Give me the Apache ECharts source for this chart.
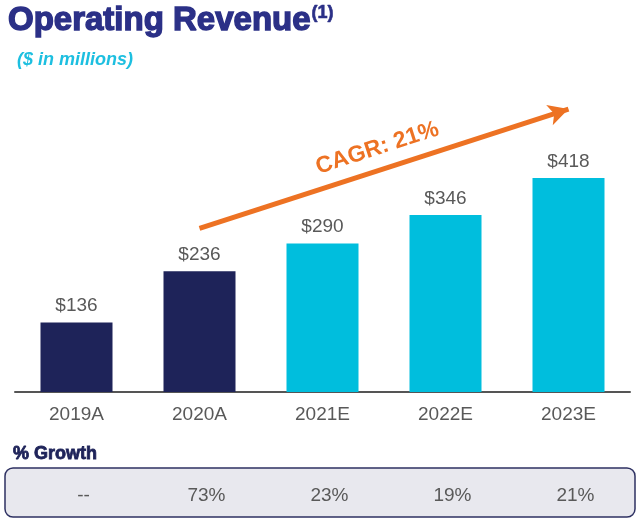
<!DOCTYPE html>
<html>
<head>
<meta charset="utf-8">
<script src="https://cdn.jsdelivr.net/npm/echarts@6/dist/echarts.min.js"></script>
<style>html,body{margin:0;padding:0;background:#fff}#c{width:640px;height:522px}</style>
</head>
<body>
<div id="c"></div>
<script>
const categories = ['2019A', '2020A', '2021E', '2022E', '2023E'];
const revenue = [136, 236, 290, 346, 418];
const actualFlags = [true, true, false, false, false];
const growth = ['--', '73%', '23%', '19%', '21%'];
const cagrLabel = 'CAGR: 21%';
const cagrStart = ['2020A', 320];
const cagrEnd = ['2023E', 553];

const chart = echarts.init(document.getElementById('c'));
const navy = '#1E2359';
const cyan = '#00BEDD';
const orange = '#ED7223';
const gray = '#595959';

chart.setOption({
  animation: false,
  title: [{
    text: '{t|Operating Revenue}{s|(1)}',
    left: 8, top: 4, padding: 0,
    textStyle: {
      rich: {
        t: { fontFamily: 'Liberation Sans', fontWeight: 'bold', fontSize: 33, color: '#2B3087', textBorderColor: '#2B3087', textBorderWidth: 1.4 },
        s: { fontFamily: 'Liberation Sans', fontWeight: 'bold', fontSize: 18, color: '#2B3087', textBorderColor: '#2B3087', textBorderWidth: 0.6, verticalAlign: 'top', padding: [0, 0, 14, 1] }
      }
    }
  }, {
    text: '($ in millions)',
    left: 17, top: 51, padding: 0,
    textStyle: { fontFamily: 'Liberation Sans', fontStyle: 'italic', fontWeight: 'bold', fontSize: 18, color: '#1DBFE0' }
  }, {
    text: '% Growth',
    left: 13, top: 445, padding: 0,
    textStyle: { fontFamily: 'Liberation Sans', fontWeight: 'bold', fontSize: 18, color: navy, textBorderColor: navy, textBorderWidth: 0.8 }
  }],
  graphic: [{
    type: 'rect', z: -1,
    shape: { x: 5, y: 468, width: 630, height: 49, r: 8 },
    style: { fill: '#E8E8EE', stroke: '#2E3162', lineWidth: 1.5 }
  }],
  grid: { left: 15, right: 10, top: 85, height: 307 },
  xAxis: [{
    type: 'category',
    data: categories,
    axisLine: { lineStyle: { color: '#555', width: 2 } },
    axisTick: { show: false },
    axisLabel: { fontFamily: 'Liberation Sans', fontSize: 19, color: gray, margin: 13 }
  }, {
    type: 'category',
    data: growth,
    position: 'bottom',
    offset: 86,
    axisLine: { show: false },
    axisTick: { show: false },
    axisLabel: { fontFamily: 'Liberation Sans', fontSize: 19, color: gray, padding: [0, 0, 0, 14] }
  }],
  yAxis: { type: 'value', min: 0, max: 600, show: false, splitLine: { show: false } },
  series: [{
    type: 'bar',
    barWidth: 72,
    data: revenue.map((v, i) => ({ value: v, itemStyle: { color: actualFlags[i] ? navy : cyan } })),
    label: {
      show: true, position: 'top', distance: 7,
      formatter: p => '$' + p.value,
      fontFamily: 'Liberation Sans', fontSize: 19, color: gray
    },
    markLine: {
      silent: true,
      symbol: ['none', 'arrow'],
      symbolSize: [16, 20],
      lineStyle: { color: orange, width: 5, type: 'solid' },
      label: {
        show: true, position: 'middle', formatter: cagrLabel, distance: 10,
        fontFamily: 'Liberation Sans', fontWeight: 'bold', fontSize: 23, color: orange
      },
      data: [[{ coord: cagrStart }, { coord: cagrEnd }]]
    }
  }]
});
</script>
</body>
</html>
